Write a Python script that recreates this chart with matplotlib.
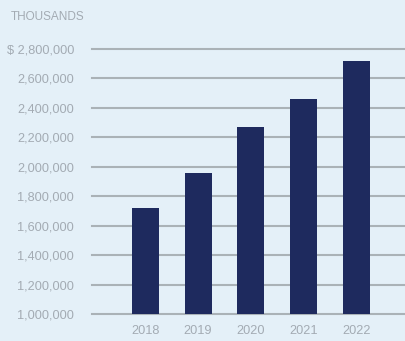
import matplotlib.pyplot as plt
import numpy as np
from matplotlib import font_manager

BAR_COLOR = "#1e2a5e"
BG_COLOR = "#e4f0f8"
TEXT_COLOR = "#a3abb3"
GRID_COLOR = "#aab2b7"

years = ["2018", "2019", "2020", "2021", "2022"]
values = [1720000, 1960000, 2270000, 2460000, 2720000]
yticks = [1000000, 1200000, 1400000, 1600000, 1800000, 2000000,
          2200000, 2400000, 2600000, 2800000]

names = {f.name for f in font_manager.fontManager.ttflist}
family = [n for n in ["Liberation Sans Narrow", "Liberation Sans", "DejaVu Sans"] if n in names]
plt.rcParams["font.family"] = family

W, H = 406, 341
fig = plt.figure(figsize=(W / 100, H / 100), dpi=100)
fig.patch.set_facecolor(BG_COLOR)

# axes placed in pixel terms: gridlines from x=92 to right edge, 1,000,000 at y=314
top_px = 314 - 1.82 / 1.8 * 265
ax = fig.add_axes([92 / W, 1 - 314 / H, 1 - 92 / W, (314 - top_px) / H])
ax.set_facecolor(BG_COLOR)

x = np.arange(len(years))
ax.bar(x, values, width=0.51, color=BAR_COLOR, zorder=3)
ax.set_xlim(-1.01, 4.94)
ax.set_ylim(1000000, 2820000)

ax.set_yticks(yticks)
ax.set_yticklabels([("$ " if v == yticks[-1] else "") + f"{v:,}" for v in yticks])
ax.set_xticks(x)
ax.set_xticklabels(years)
ax.tick_params(axis="both", length=0, colors=TEXT_COLOR, labelsize=9.2)
ax.tick_params(axis="y", pad=13)
ax.tick_params(axis="x", pad=8)
ax.grid(axis="y", color=GRID_COLOR, linewidth=1.5, zorder=0, clip_on=False)
ax.set_axisbelow(True)
for s in ax.spines.values():
    s.set_visible(False)

fig.text(11 / W, 1 - 17 / H, "THOUSANDS", color=TEXT_COLOR, fontsize=8.5,
         ha="left", va="center")

fig.savefig("out.png", dpi=100, facecolor=BG_COLOR)
